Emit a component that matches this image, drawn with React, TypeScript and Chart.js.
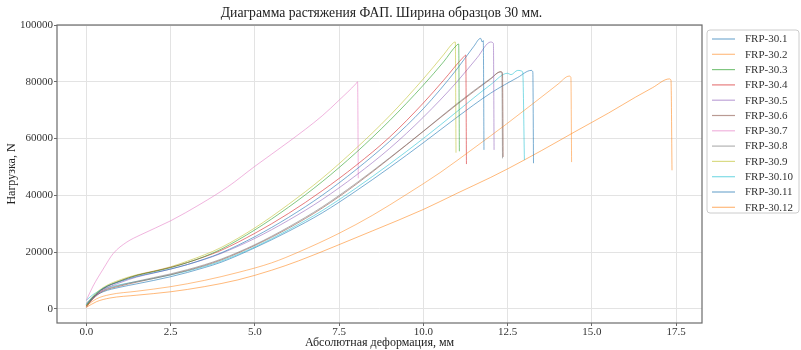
import React, { useEffect, useRef } from "react";
import { Chart, registerables } from "chart.js";

Chart.register(...registerables);

const TITLE = "Диаграмма растяжения ФАП. Ширина образцов 30 мм.";
const X_LABEL = "Абсолютная деформация, мм";
const Y_LABEL = "Нагрузка, N";
const X_TICKS = [0, 2.5, 5, 7.5, 10, 12.5, 15, 17.5];
const Y_TICKS = [0, 20000, 40000, 60000, 80000, 100000];

const SERIES_NAMES = [
  "FRP-30.1", "FRP-30.2", "FRP-30.3", "FRP-30.4", "FRP-30.5", "FRP-30.6",
  "FRP-30.7", "FRP-30.8", "FRP-30.9", "FRP-30.10", "FRP-30.11", "FRP-30.12",
];
const SERIES_COLORS = [
  "rgba(31,119,180,0.6)", "rgba(255,127,14,0.5)", "rgba(44,160,44,0.6)",
  "rgba(214,39,40,0.6)", "rgba(148,103,189,0.6)", "rgba(140,86,75,0.6)",
  "rgba(227,119,194,0.55)", "rgba(127,127,127,0.6)", "rgba(188,189,34,0.55)",
  "rgba(23,190,207,0.55)", "rgba(31,119,180,0.6)", "rgba(255,127,14,0.55)",
];

// deformation (mm) / load (N) for each specimen
const frp1X = [0, 0.2, 0.5, 1, 1.5, 2, 2.5, 3, 3.5, 4, 5, 6, 7, 8, 9, 10, 11, 11.5, 11.7, 11.75, 11.78, 11.8];
const frp1Y = [1500, 4200, 7200, 9600, 11400, 12700, 14000, 15600, 17500, 19700, 25400, 32200, 40000, 49000, 59000, 70500, 84500, 92500, 95300, 94000, 94500, 56000];

const frp2X = [0, 0.3, 0.7, 1.5, 2.5, 3.5, 4.5, 5.5, 6.3, 7.5, 8.5, 9.5, 10.5, 11.5, 12.5, 13.2, 13.7, 14.0, 14.33, 14.38, 14.4];
const frp2Y = [1000, 3500, 5000, 6200, 7800, 10000, 12800, 16200, 20000, 26600, 33000, 40300, 48000, 56600, 65400, 71800, 76400, 79200, 82000, 81500, 51700];

const frp3X = [0, 0.2, 0.5, 1, 1.5, 2, 2.5, 3, 3.5, 4, 5, 6, 7, 8, 9, 10, 10.6, 11.0, 11.05, 11.07];
const frp3Y = [1000, 4000, 7200, 9800, 11800, 13100, 14500, 16300, 18400, 21000, 27800, 35800, 44800, 55000, 66300, 78800, 87000, 93000, 93300, 55500];

const frp4X = [0, 0.2, 0.5, 1, 1.5, 2, 2.5, 3, 3.5, 4, 5, 6, 7, 8, 9, 10, 10.6, 11.2, 11.26, 11.28];
const frp4Y = [800, 3800, 7000, 9800, 11800, 13200, 14600, 16300, 18300, 20600, 26600, 33600, 41600, 50500, 60500, 72500, 80500, 88800, 89400, 51000];

const frp5X = [0, 0.2, 0.5, 1, 1.5, 2, 2.5, 3, 3.5, 4, 5, 6, 7, 8, 9, 10, 11, 11.6, 12, 12.08, 12.1];
const frp5Y = [1000, 3600, 6600, 9200, 11200, 12600, 14000, 15600, 17400, 19500, 24800, 31200, 38500, 47000, 56500, 67500, 80000, 88500, 94000, 93500, 56000];

const frp6X = [0, 0.2, 0.5, 1, 1.5, 2, 2.5, 3, 3.5, 4, 5, 6, 7, 8, 9, 10, 11, 12, 12.3, 12.35, 12.37];
const frp6Y = [500, 3500, 6200, 8000, 9400, 10700, 12000, 13500, 15200, 17200, 22300, 28400, 35500, 43800, 53000, 62500, 72000, 81000, 83600, 83000, 53500];

const frp7X = [0, 0.2, 0.5, 0.8, 1.2, 1.6, 2.5, 3.4, 4.2, 5, 6, 7, 7.5, 8.0, 8.05, 8.07];
const frp7Y = [3000, 8000, 14000, 19500, 23500, 26000, 31000, 37000, 43000, 50200, 58800, 68000, 73500, 79300, 80000, 46000];

const frp8X = [0, 0.2, 0.5, 1, 1.5, 2, 2.5, 3, 3.5, 4, 5, 6, 7, 8, 9, 10, 11, 12, 12.28, 12.33, 12.35];
const frp8Y = [2000, 4200, 6500, 8300, 9700, 11000, 12300, 13800, 15500, 17500, 22600, 28800, 35900, 44200, 53200, 62600, 72300, 81200, 83400, 83200, 53000];

const frp9X = [0, 0.2, 0.5, 1, 1.5, 2, 2.5, 3, 3.5, 4, 5, 6, 7, 8, 9, 10, 10.6, 10.9, 10.95, 10.97];
const frp9Y = [1200, 4500, 7500, 10200, 12000, 13300, 14800, 16800, 19000, 21600, 28500, 36800, 46000, 56500, 68000, 81000, 89500, 93800, 94000, 55000];

const frp10X = [0, 0.2, 0.5, 1, 1.5, 2, 2.5, 3, 3.5, 4, 5, 6, 7, 8, 9, 10, 11, 12, 12.5, 12.6, 12.8, 12.95, 13.0];
const frp10Y = [3000, 5000, 7000, 8500, 9600, 10700, 11900, 13300, 14900, 16800, 21800, 27800, 34600, 42500, 51000, 60000, 69500, 79000, 83000, 82500, 84000, 83500, 52400];

const frp11X = [0, 0.2, 0.5, 1, 1.5, 2, 2.5, 3, 3.5, 4, 5, 6, 7, 8, 9, 10, 11, 12, 12.8, 13.2, 13.25, 13.27];
const frp11Y = [1500, 4000, 6000, 7600, 8800, 10000, 11300, 12800, 14500, 16400, 21500, 27300, 33800, 41500, 49800, 58500, 67500, 76000, 81500, 84000, 83500, 51300];

const frp12X = [0, 0.3, 0.7, 1.5, 2.5, 3.5, 4.5, 5.5, 6.3, 7.5, 8.5, 10, 11, 12, 12.5, 13.5, 14.5, 15.5, 16.3, 16.8, 17.3, 17.35, 17.38];
const frp12Y = [500, 2500, 3800, 4800, 6000, 7800, 10200, 13600, 16900, 22600, 27500, 35000, 40700, 46300, 49300, 55700, 62400, 69000, 74600, 77900, 81000, 80500, 48800];

const SERIES_X = [frp1X, frp2X, frp3X, frp4X, frp5X, frp6X, frp7X, frp8X, frp9X, frp10X, frp11X, frp12X];
const SERIES_Y = [frp1Y, frp2Y, frp3Y, frp4Y, frp5Y, frp6Y, frp7Y, frp8Y, frp9Y, frp10Y, frp11Y, frp12Y];

const FONT = "'Liberation Serif', 'DejaVu Serif', serif";

export default function App() {
  const ref = useRef<HTMLCanvasElement | null>(null);

  useEffect(() => {
    if (!ref.current) return;
    const datasets = SERIES_NAMES.map((name, i) => ({
      label: name,
      data: SERIES_X[i].map((x, j) => ({ x, y: SERIES_Y[i][j] })),
      borderColor: SERIES_COLORS[i],
      backgroundColor: SERIES_COLORS[i],
      borderWidth: 1,
      pointRadius: 0,
      cubicInterpolationMode: "monotone" as const,
      fill: false,
    }));

    const decor = {
      id: "decor",
      afterDraw(chart: any) {
        const ctx = chart.ctx;
        const a = chart.chartArea;
        ctx.save();
        // spines
        ctx.strokeStyle = "#6b6b6b";
        ctx.lineWidth = 1.2;
        ctx.strokeRect(a.left, a.top, a.right - a.left, a.bottom - a.top);
        // title
        ctx.fillStyle = "#222";
        ctx.font = `13.7px ${FONT}`;
        ctx.textAlign = "center";
        ctx.textBaseline = "middle";
        ctx.fillText(TITLE, (a.left + a.right) / 2 + 2, 13);
        // legend
        const lx = 707, ly = 30, lw = 92, lh = 183;
        ctx.strokeStyle = "#cccccc";
        ctx.lineWidth = 1;
        ctx.beginPath();
        const r = 3;
        ctx.moveTo(lx + r, ly);
        ctx.lineTo(lx + lw - r, ly);
        ctx.quadraticCurveTo(lx + lw, ly, lx + lw, ly + r);
        ctx.lineTo(lx + lw, ly + lh - r);
        ctx.quadraticCurveTo(lx + lw, ly + lh, lx + lw - r, ly + lh);
        ctx.lineTo(lx + r, ly + lh);
        ctx.quadraticCurveTo(lx, ly + lh, lx, ly + lh - r);
        ctx.lineTo(lx, ly + r);
        ctx.quadraticCurveTo(lx, ly, lx + r, ly);
        ctx.stroke();
        ctx.font = `11px ${FONT}`;
        ctx.textAlign = "left";
        chart.data.datasets.forEach((ds: any, i: number) => {
          const y = 39 + i * 15.3;
          ctx.strokeStyle = ds.borderColor;
          ctx.lineWidth = 1.2;
          ctx.beginPath();
          ctx.moveTo(712, y);
          ctx.lineTo(735, y);
          ctx.stroke();
          ctx.fillStyle = "#333";
          ctx.fillText(ds.label, 745, y + 0.5);
        });
        ctx.restore();
      },
    };

    const chart = new Chart(ref.current, {
      type: "line",
      data: { datasets },
      plugins: [decor],
      options: {
        animation: false,
        responsive: false,
        parsing: false as any,
        layout: { padding: { top: 25, right: 99, left: 0, bottom: 0 } },
        plugins: { legend: { display: false }, title: { display: false }, tooltip: { enabled: false } },
        scales: {
          x: {
            type: "linear",
            min: -0.87,
            max: 18.27,
            afterBuildTicks: (s: any) => { s.ticks = X_TICKS.map((v) => ({ value: v })); },
            afterFit: (s: any) => { s.height = 27; },
            grid: { color: "#e3e3e3", tickColor: "#6b6b6b", tickLength: 3, lineWidth: 1 },
            border: { display: false },
            ticks: {
              color: "#333",
              font: { family: FONT, size: 11 },
              padding: 0,
              maxRotation: 0,
              callback: (v: any) => Number(v).toFixed(1),
            },
            title: { display: true, text: X_LABEL, color: "#222", font: { family: FONT, size: 12 }, padding: { top: 0, bottom: 0 } },
          },
          y: {
            type: "linear",
            min: -5000,
            max: 100000,
            afterBuildTicks: (s: any) => { s.ticks = Y_TICKS.map((v) => ({ value: v })); },
            afterFit: (s: any) => { s.width = 57; },
            grid: { color: "#e3e3e3", tickColor: "#6b6b6b", tickLength: 3, lineWidth: 1 },
            border: { display: false },
            ticks: {
              color: "#333",
              font: { family: FONT, size: 11 },
              padding: 1,
              callback: (v: any) => String(v),
            },
            title: { display: true, text: Y_LABEL, color: "#222", font: { family: FONT, size: 12 }, padding: { top: 5, bottom: 0 } },
          },
        },
      } as any,
    });
    return () => chart.destroy();
  }, []);

  return (
    <div style={{ position: "fixed", left: 0, top: 0, width: 801, height: 350, background: "#fff" }}>
      <canvas ref={ref} width={801} height={350} />
    </div>
  );
}
